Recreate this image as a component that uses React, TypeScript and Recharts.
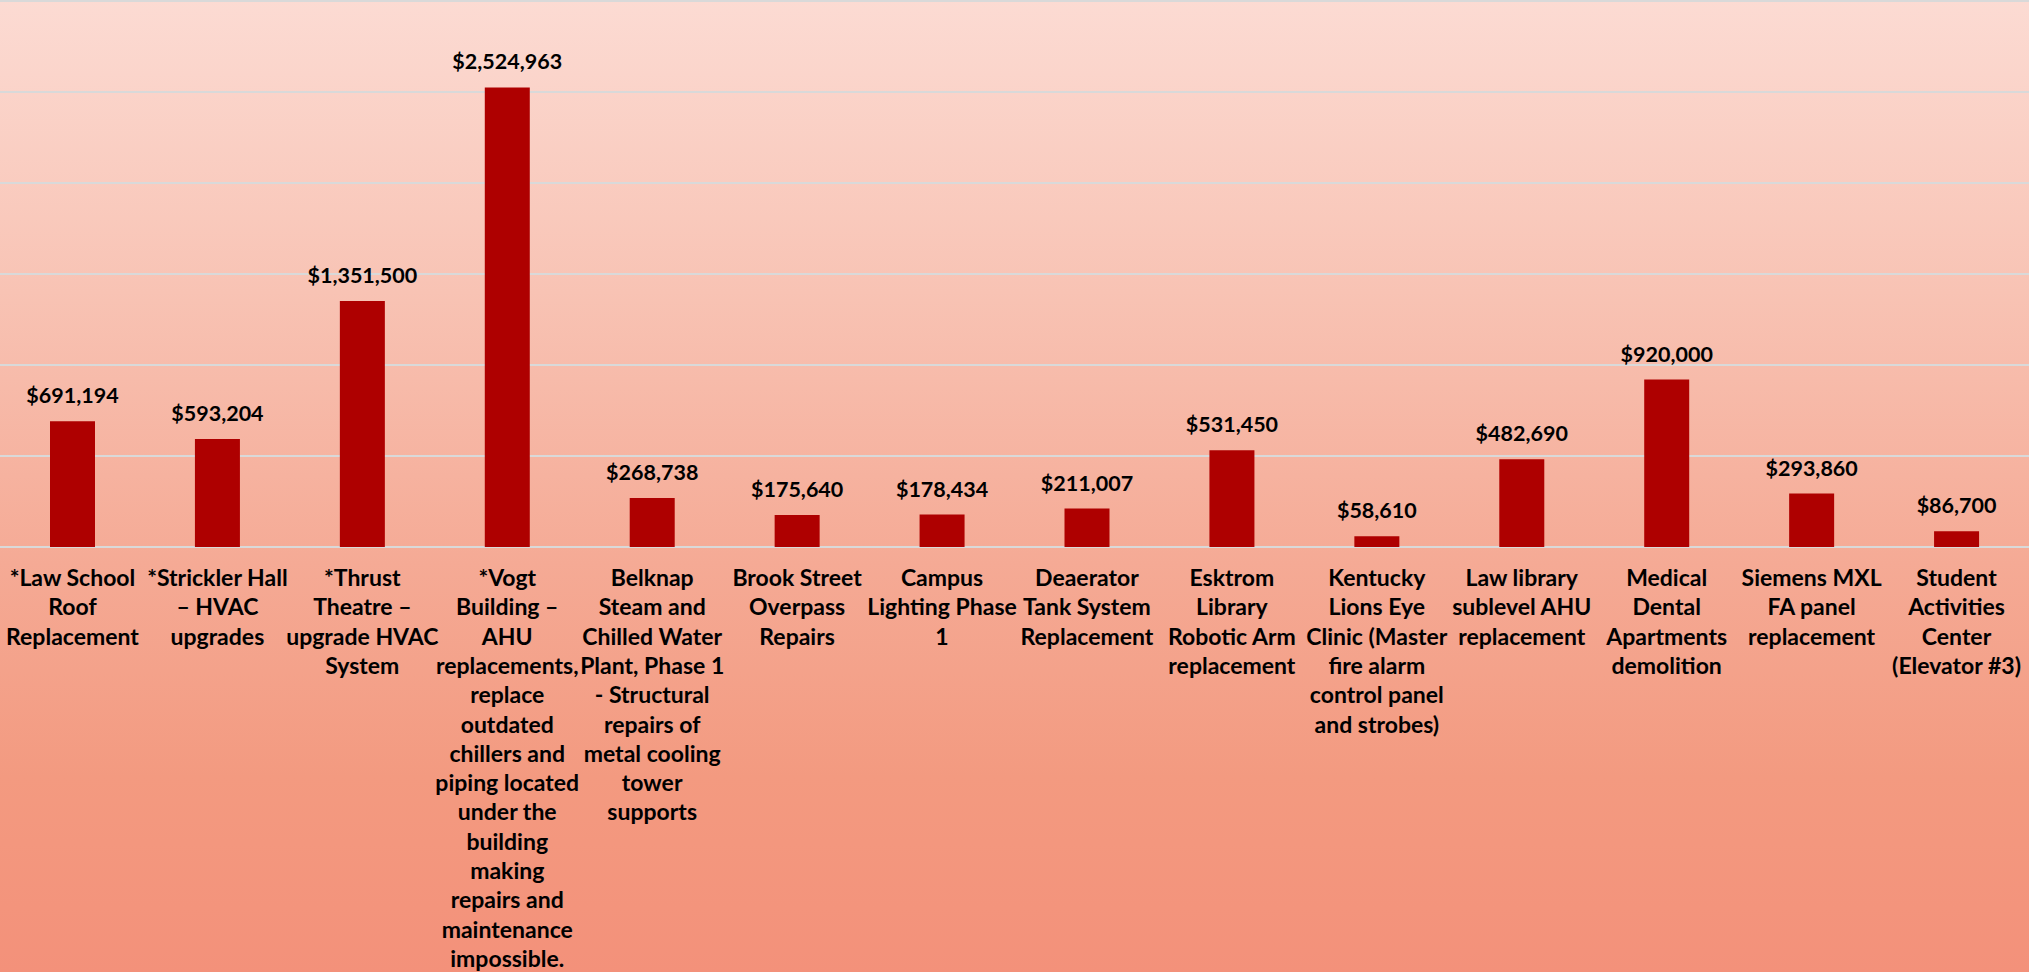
import React from "react";
import { BarChart, Bar, XAxis, YAxis, CartesianGrid, LabelList } from "recharts";

const categoryLabels: string[] = [
  "*Law School\nRoof\nReplacement",
  "*Strickler Hall\n– HVAC\nupgrades",
  "*Thrust\nTheatre –\nupgrade HVAC\nSystem",
  "*Vogt\nBuilding –\nAHU\nreplacements,\nreplace\noutdated\nchillers and\npiping located\nunder the\nbuilding\nmaking\nrepairs and\nmaintenance\nimpossible.",
  "Belknap\nSteam and\nChilled Water\nPlant, Phase 1\n- Structural\nrepairs of\nmetal cooling\ntower\nsupports",
  "Brook Street\nOverpass\nRepairs",
  "Campus\nLighting Phase\n1",
  "Deaerator\nTank System\nReplacement",
  "Esktrom\nLibrary\nRobotic Arm\nreplacement",
  "Kentucky\nLions Eye\nClinic (Master\nfire alarm\ncontrol panel\nand strobes)",
  "Law library\nsublevel AHU\nreplacement",
  "Medical\nDental\nApartments\ndemolition",
  "Siemens MXL\nFA panel\nreplacement",
  "Student\nActivities\nCenter\n(Elevator #3)",
];

const costValues: number[] = [
  691194, 593204, 1351500, 2524963, 268738, 175640, 178434, 211007, 531450,
  58610, 482690, 920000, 293860, 86700,
];

const yTicks: number[] = [0, 500000, 1000000, 1500000, 2000000, 2500000, 3000000];

const data = categoryLabels.map((name, i) => ({ name, value: costValues[i] }));

const FONT = "Lato, 'Open Sans', sans-serif";

const CategoryTick = (props: any) => {
  const { x, y, payload } = props;
  const lines = String(payload.value).split("\n");
  return (
    <text
      x={x}
      y={y}
      textAnchor="middle"
      fontFamily={FONT}
      fontWeight={700}
      fontSize={23}
      fill="#000000"
    >
      {lines.map((l, i) => (
        <tspan key={i} x={x} dy={i === 0 ? 39 : 29.3}>
          {l}
        </tspan>
      ))}
    </text>
  );
};

const fmt = (v: any) => "$" + Number(v).toLocaleString("en-US");

const gridGen = (args: any) => {
  const scale = args?.yAxis?.scale;
  if (scale && typeof scale === "function") {
    return yTicks.map((t) => scale(t));
  }
  if (scale && typeof scale.map === "function") {
    return yTicks.map((t) => scale.map(t));
  }
  const off = args.offset;
  return yTicks.map((t) => off.top + off.height * (1 - t / 3000000));
};

export default function App() {
  return (
    <div
      style={{
        position: "absolute",
        left: 0,
        top: 0,
        width: 2029,
        height: 972,
        background:
          "linear-gradient(180deg, #FCDBD3 0%, #F8C3B4 30%, #F5AA95 58%, #F39A80 80%, #F3917A 100%)",
      }}
    >
      <BarChart
        width={2029}
        height={972}
        data={data}
        margin={{ top: 1, right: 0, left: 0, bottom: 0 }}
      >
        <CartesianGrid
          vertical={false}
          stroke="#D9D9D9"
          strokeWidth={2}
          horizontalCoordinatesGenerator={gridGen}
        />
        <XAxis
          dataKey="name"
          height={425}
          interval={0}
          axisLine={false}
          tickLine={false}
          tickSize={0}
          tickMargin={0}
          tick={<CategoryTick />}
        />
        <YAxis
          width={0}
          domain={[0, 3000000]}
          ticks={yTicks}
          tick={false}
          axisLine={false}
          tickLine={false}
        />
        <Bar dataKey="value" fill="#AE0000" barSize={45} isAnimationActive={false}>
          <LabelList
            dataKey="value"
            position="top"
            offset={18}
            formatter={fmt}
            style={{ fontFamily: FONT, fontWeight: 700, fontSize: 21.5, fill: "#000000" }}
          />
        </Bar>
      </BarChart>
    </div>
  );
}
